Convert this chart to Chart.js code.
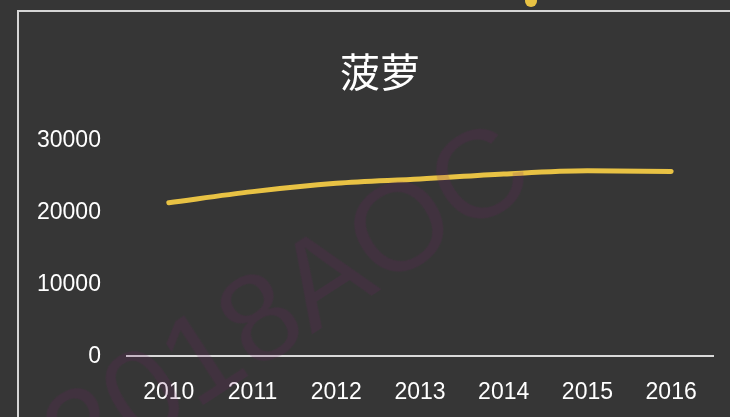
<!DOCTYPE html>
<html>
<head>
<meta charset="utf-8">
<script src="https://cdn.jsdelivr.net/npm/chart.js@4.4.0/dist/chart.umd.min.js"></script>
<style>
  html, body { margin: 0; padding: 0; background: #363636; }
  #wrap { position: relative; width: 730px; height: 417px; overflow: hidden; background: #363636; }
  #frame { position: absolute; left: 17px; top: 10px; width: 800px; height: 500px;
           border-top: 2px solid #d6d6d6; border-left: 2px solid #d6d6d6; }
  #dot { position: absolute; left: 525px; top: -5px; width: 12px; height: 12px; border-radius: 50%; background: #e8c244; }
  #mark { position: absolute; left: 285px; top: 300px; transform: translate(-50%, -50%) rotate(-33deg);
          font: 125px "Liberation Sans", Arial, sans-serif; color: rgba(110, 30, 100, 0.18);
          white-space: nowrap; pointer-events: none; }
  canvas { position: absolute; left: 0; top: 0; }
</style>
</head>
<body>
<div id="wrap">
  <div id="frame"></div>
  <div id="dot"></div>
  <canvas id="myChart" width="730" height="417"></canvas>
  <div id="mark">2018AOC</div>
</div>
<script>
var years = ["2010", "2011", "2012", "2013", "2014", "2015", "2016"];
var pineapple = [21400, 22950, 24100, 24700, 25400, 25850, 25750];
var yTicks = [0, 10000, 20000, 30000];

// title sits a bit right of the canvas centre in the original
var shiftTitle = {
  id: "shiftTitle",
  afterLayout: function (chart) {
    chart.titleBlock.left = 47;
    chart.titleBlock.right = 713;
  }
};

var ctx = document.getElementById("myChart").getContext("2d");
var chart = new Chart(ctx, {
  type: "line",
  data: {
    labels: years,
    datasets: [
      {
        label: "菠萝",
        data: pineapple,
        borderColor: "#e8c244",
        borderWidth: 5,
        borderCapStyle: "round",
        borderJoinStyle: "round",
        pointRadius: 0,
        cubicInterpolationMode: "monotone",
        fill: false
      }
    ]
  },
  options: {
    responsive: false,
    animation: false,
    // ticks reserve 2x their padding, so the outer padding is smaller here
    layout: { padding: { top: 20, left: 11, right: 17, bottom: -11 } },
    plugins: {
      legend: { display: false },
      tooltip: { enabled: false },
      title: {
        display: true,
        text: "菠萝",
        color: "#ffffff",
        font: { family: "'Noto Sans CJK SC', sans-serif", size: 40, weight: "normal", lineHeight: 1.2 },
        padding: { top: 28, bottom: 45 }
      }
    },
    scales: {
      x: {
        offset: true,
        grid: { display: false, drawTicks: false },
        border: { display: true, color: "#d9d9d9", width: 2 },
        ticks: {
          color: "#ffffff",
          padding: 22,
          font: { family: "'Liberation Sans', Arial, sans-serif", size: 23 }
        }
      },
      y: {
        min: 0,
        max: 30000,
        afterBuildTicks: function (axis) {
          axis.ticks = yTicks.map(function (v) { return { value: v }; });
        },
        grid: { display: false, drawTicks: false },
        border: { display: false },
        ticks: {
          color: "#ffffff",
          padding: 26,
          font: { family: "'Liberation Sans', Arial, sans-serif", size: 23 },
          callback: function (v) { return String(v); }
        }
      }
    }
  },
  plugins: [shiftTitle]
});
</script>
</body>
</html>
